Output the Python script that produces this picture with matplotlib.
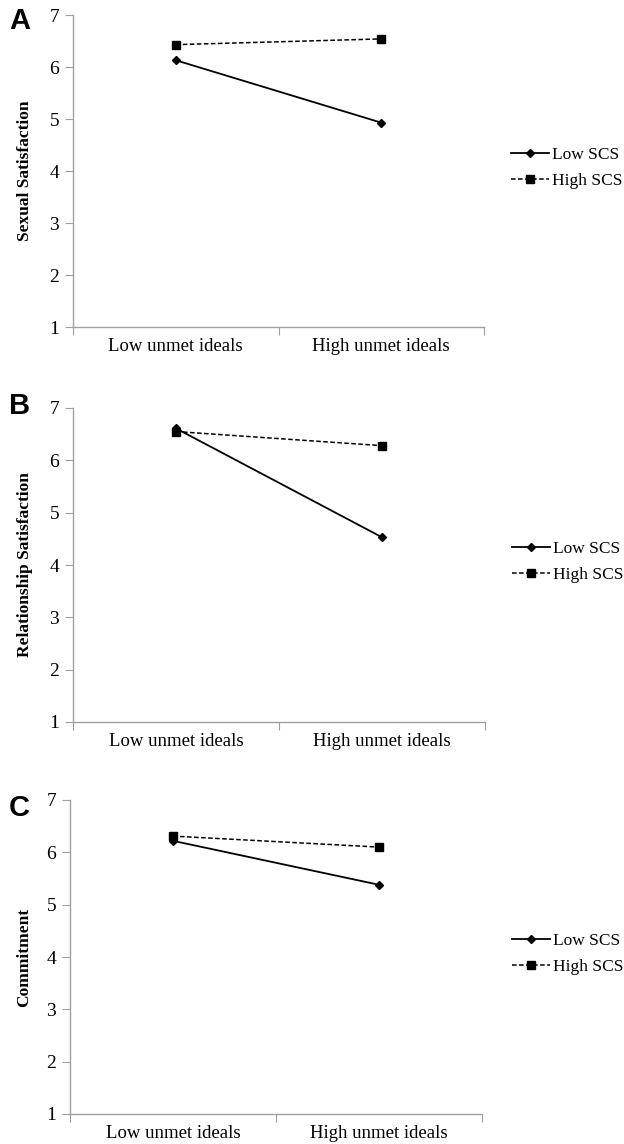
#!/usr/bin/env python3
"""Interaction plots: unmet ideals x SCS for three outcomes."""

import matplotlib
matplotlib.use("Agg")
import matplotlib.pyplot as plt

categories = ["Low unmet ideals", "High unmet ideals"]
series_names = ["Low SCS", "High SCS"]

sexual_low_scs = [6.13, 4.93]
sexual_high_scs = [6.43, 6.54]
relationship_low_scs = [6.61, 4.53]
relationship_high_scs = [6.55, 6.28]
commitment_low_scs = [6.22, 5.38]
commitment_high_scs = [6.31, 6.10]

panel_letters = ["A", "B", "C"]
y_labels = ["Sexual Satisfaction", "Relationship Satisfaction", "Commitment"]
y_ticks = [1, 2, 3, 4, 5, 6, 7]

SERIF = ["Liberation Serif", "DejaVu Serif"]
GRAY = "#a0a0a0"
W, H = 624, 1144

panels = [
    (sexual_low_scs, sexual_high_scs),
    (relationship_low_scs, relationship_high_scs),
    (commitment_low_scs, commitment_high_scs),
]

# axes boxes in pixels: (left, top, right, bottom), letter baseline y
boxes_px = [(73, 15, 484, 327), (73, 408, 485, 722), (70, 800, 482, 1114)]
letter_base = [29, 414, 816]

fig = plt.figure(figsize=(W / 100, H / 100), dpi=100)
x_pos = [0.5, 1.5]

for i, (low, high) in enumerate(panels):
    l, t, r, b = boxes_px[i]
    ax = fig.add_axes((l / W, 1 - b / H, (r - l) / W, (b - t) / H))
    ax.plot(x_pos, low, "-", color="black", lw=1.3, marker="D", ms=4.5,
            label=series_names[0])
    ax.plot(x_pos, high, "--", color="black", lw=1.1, marker="s", ms=5.8,
            dashes=(3, 1.6), label=series_names[1])

    ax.set_xlim(0, 2)
    ax.set_ylim(1, 7)
    ax.set_yticks(y_ticks)
    ax.set_xticks([0, 1, 2])
    ax.set_xticklabels([])
    ax.set_xticks(x_pos, minor=True)
    ax.set_xticklabels(categories, minor=True, fontsize=13.5, family=SERIF)
    ax.tick_params(axis="x", which="minor", length=0, pad=8)
    ax.tick_params(axis="x", which="major", length=6, color=GRAY, direction="out")
    ax.tick_params(axis="y", length=6, color=GRAY, direction="out", pad=4)
    for lab in ax.get_yticklabels():
        lab.set_fontfamily(SERIF)
        lab.set_fontsize(14)

    for side in ["top", "right"]:
        ax.spines[side].set_visible(False)
    for side in ["left", "bottom"]:
        ax.spines[side].set_color(GRAY)
        ax.spines[side].set_linewidth(1.0)

    # keep the label at the same page position even if the axis shifts
    ax.set_ylabel(y_labels[i], fontsize=12.5, fontweight="bold", family=SERIF,
                  labelpad=12 - (73 - l) * 0.72)

    ax.legend(loc="center left", bbox_to_anchor=(1.027 + (73 - l) / (r - l), 0.51),
              frameon=False, prop={"family": SERIF, "size": 12.5},
              handlelength=2.2, handletextpad=0.2, labelspacing=0.6)

    fig.text(9 / W, 1 - letter_base[i] / H, panel_letters[i], fontsize=21,
             fontweight="bold", family=["Liberation Sans", "DejaVu Sans"],
             va="baseline", ha="left")

fig.savefig("out.png", dpi=100)
plt.close(fig)
print("Saved: out.png")
